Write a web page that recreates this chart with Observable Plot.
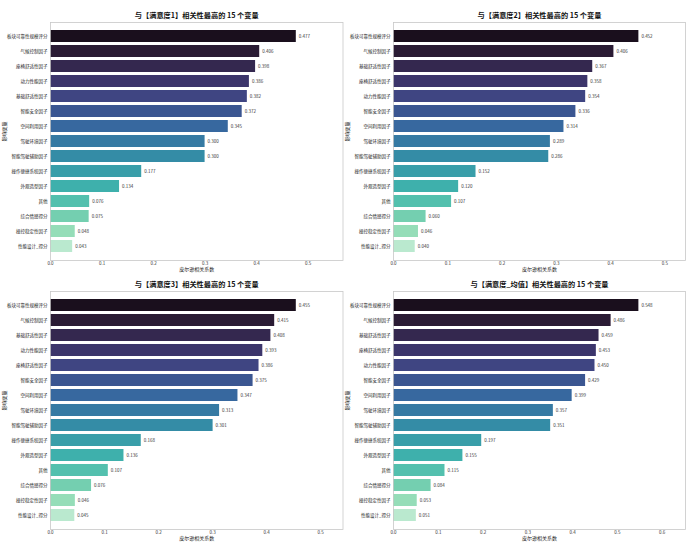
<!DOCTYPE html>
<html><head><meta charset="utf-8">
<script src="https://cdn.jsdelivr.net/npm/d3@7"></script>
<script src="https://cdn.jsdelivr.net/npm/@observablehq/plot@0.6"></script>
<style>
body{margin:0;background:#fff;}
#grid{display:grid;grid-template-columns:343px 344px;grid-template-rows:270px 274px;width:687px;}
#grid svg{overflow:visible;display:block;}
</style></head><body><div id="grid"></div>
<script>
const names1 = ["板块可靠性规模评分","气候控制因子","座椅舒适性因子","动力性能因子","基础舒适性因子","智能安全因子","空间利用因子","驾驶环境因子","智能驾驶辅助因子","操作便捷系统因子","外观造型因子","其他","综合情感得分","操控稳定性因子","性能设计_得分"];
const values1 = [0.477,0.406,0.398,0.386,0.382,0.372,0.345,0.300,0.300,0.177,0.134,0.076,0.075,0.048,0.043];

const names2 = ["板块可靠性规模评分","气候控制因子","基础舒适性因子","座椅舒适性因子","动力性能因子","智能安全因子","空间利用因子","驾驶环境因子","智能驾驶辅助因子","操作便捷系统因子","外观造型因子","其他","综合情感得分","操控稳定性因子","性能设计_得分"];
const values2 = [0.452,0.406,0.367,0.358,0.354,0.336,0.314,0.289,0.286,0.152,0.120,0.107,0.060,0.046,0.040];

const names3 = ["板块可靠性规模评分","气候控制因子","基础舒适性因子","动力性能因子","座椅舒适性因子","智能安全因子","空间利用因子","驾驶环境因子","智能驾驶辅助因子","操作便捷系统因子","外观造型因子","其他","综合情感得分","操控稳定性因子","性能设计_得分"];
const values3 = [0.455,0.415,0.408,0.393,0.386,0.375,0.347,0.313,0.301,0.168,0.136,0.107,0.076,0.046,0.045];

const names4 = ["板块可靠性规模评分","气候控制因子","基础舒适性因子","座椅舒适性因子","动力性能因子","智能安全因子","空间利用因子","驾驶环境因子","智能驾驶辅助因子","操作便捷系统因子","外观造型因子","其他","综合情感得分","操控稳定性因子","性能设计_得分"];
const values4 = [0.548,0.486,0.459,0.453,0.450,0.429,0.399,0.357,0.351,0.197,0.155,0.115,0.084,0.053,0.051];

const titles = ["与【满意度1】相关性最高的 15 个变量","与【满意度2】相关性最高的 15 个变量","与【满意度3】相关性最高的 15 个变量","与【满意度_均值】相关性最高的 15 个变量"];
const xLabel = "皮尔逊相关系数";
const yLabel = "影响变量";

// mako colormap stops
const makoStops = ["#0B0405","#2E1E3B","#413D7B","#37659E","#348FA7","#40B7AD","#8BDAB2","#DEF5E5"];
const mako = d3.piecewise(d3.interpolateRgb, makoStops);

const panels = [
  {names: names1, values: values1, title: titles[0], w: 343, h: 270, mt: 22, mb: 10, mr: 0.5},
  {names: names2, values: values2, title: titles[1], w: 344, h: 270, mt: 22, mb: 10, mr: 2},
  {names: names3, values: values3, title: titles[2], w: 343, h: 274, mt: 21, mb: 15, mr: 0.5},
  {names: names4, values: values4, title: titles[3], w: 344, h: 274, mt: 21, mb: 15, mr: 2}
];

const font = "'Noto Sans CJK SC', 'Noto Sans', sans-serif";
const grid = document.getElementById("grid");

for (const p of panels) {
  const n = p.names.length;
  const data = p.names.map((name, i) => ({name, value: p.values[i], color: mako((i + 1) / (n + 1))}));
  const xmax = d3.max(p.values) * 1.19;
  const chart = Plot.plot({
    width: p.w,
    height: p.h,
    marginLeft: 50,
    marginRight: p.mr,
    marginTop: p.mt,
    marginBottom: p.mb,
    style: {fontFamily: font, fontSize: "4.5px", background: "transparent", overflow: "visible"},
    x: {domain: [0, xmax], ticks: d3.range(0, xmax, 0.1), label: null},
    y: {domain: p.names, paddingInner: 0.2, paddingOuter: 0.1, label: null},
    marks: [
      Plot.barX(data, {x: "value", y: "name", fill: "color"}),
      Plot.frame({stroke: "#c8c8c8", strokeWidth: 0.8}),
      Plot.axisX({ticks: d3.range(0, xmax, 0.1), tickFormat: d3.format(".1f"), tickSize: 0, tickPadding: 1, fontSize: 4.5, fill: "#333", label: null}),
      Plot.axisY({tickSize: 0, tickPadding: 3, fontSize: 4.5, fill: "#222", label: null}),
      Plot.text(data, {x: "value", y: "name", text: d => d3.format(".3f")(d.value), textAnchor: "start", dx: 2.5, fontSize: 4.5, fill: "#333"}),
      Plot.text([p.title], {text: d => d, frameAnchor: "top", dy: -10, fontSize: 7.2, fontWeight: "bold", fill: "#111"}),
      Plot.text([xLabel], {text: d => d, frameAnchor: "bottom", dy: 10.5, fontSize: 5, fill: "#222"}),
      Plot.text([yLabel], {text: d => d, frameAnchor: "left", dx: -46, rotate: -90, fontSize: 5, fill: "#222"})
    ]
  });
  const cell = document.createElement("div");
  cell.appendChild(chart);
  grid.appendChild(cell);
}
</script>
</body></html>
